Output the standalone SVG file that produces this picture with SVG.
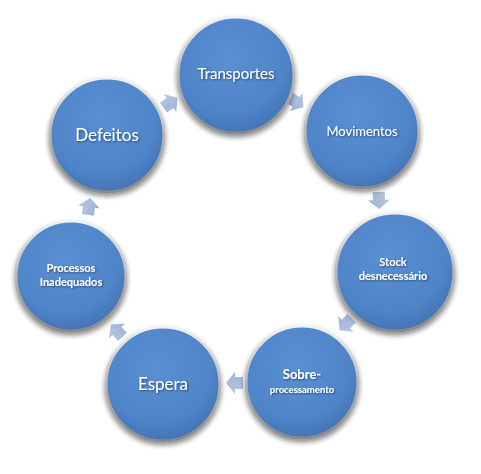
<svg xmlns="http://www.w3.org/2000/svg" width="481" height="474" viewBox="0 0 481 474">
<defs>
<radialGradient id="fill" cx="0.45" cy="0.35" r="0.7">
<stop offset="0" stop-color="#5a8fd3"/>
<stop offset="0.7" stop-color="#4f84c8"/>
<stop offset="1" stop-color="#3f6fb0"/>
</radialGradient>
<linearGradient id="rim" x1="0" y1="0" x2="0" y2="1">
<stop offset="0" stop-color="#f2f2f2"/>
<stop offset="0.5" stop-color="#b8b8b8"/>
<stop offset="1" stop-color="#8a8a8a"/>
</linearGradient>
<linearGradient id="arr" x1="0" y1="0" x2="0" y2="1">
<stop offset="0" stop-color="#b4c4de"/>
<stop offset="1" stop-color="#98aed2"/>
</linearGradient>
<filter id="sh" x="-20%" y="-20%" width="140%" height="150%">
<feGaussianBlur in="SourceAlpha" stdDeviation="2.5"/>
<feOffset dx="0" dy="3" result="b"/>
<feComponentTransfer><feFuncA type="linear" slope="0.45"/></feComponentTransfer>
<feMerge><feMergeNode/><feMergeNode in="SourceGraphic"/></feMerge>
</filter>
<filter id="tsh" x="-10%" y="-30%" width="120%" height="160%">
<feGaussianBlur in="SourceAlpha" stdDeviation="0.8"/>
<feOffset dx="0.8" dy="1" />
<feComponentTransfer><feFuncA type="linear" slope="0.5"/></feComponentTransfer>
<feMerge><feMergeNode/><feMergeNode in="SourceGraphic"/></feMerge>
</filter>
<path id="ar" d="M-8,-6 L0,-6 L0,-11 L9,0 L0,11 L0,6 L-8,6 Z"/>
</defs>
<style>
.c{fill:url(#fill);stroke:url(#rim);stroke-width:3;filter:url(#sh)}
.t{fill:#ffffff;font-family:Lato,"Liberation Sans",sans-serif;text-anchor:middle;filter:url(#tsh)}
.b{font-weight:bold}
.a{fill:url(#arr);opacity:0.95}
</style>
<rect width="481" height="474" fill="#ffffff"/>
<g id="connectors">
<use href="#ar" class="a" transform="translate(170,103) rotate(-35)"/>
<use href="#ar" class="a" transform="translate(296,102) rotate(35)"/>
<use href="#ar" class="a" transform="translate(379,200) rotate(88)"/>
<use href="#ar" class="a" transform="translate(346,324) rotate(135)"/>
<use href="#ar" class="a" transform="translate(235,383) rotate(180)"/>
<use href="#ar" class="a" transform="translate(117,331) rotate(227)"/>
<use href="#ar" class="a" transform="translate(89,207) rotate(-82)"/>
</g>
<g id="transportes">
<circle class="c" cx="236" cy="75" r="58"/>
<text class="t" x="236" y="79" font-size="15">Transportes</text>
</g>
<g id="movimentos">
<circle class="c" cx="362" cy="131" r="57"/>
<text class="t" x="362" y="136" font-size="13">Movimentos</text>
</g>
<g id="stock">
<circle class="c" cx="395" cy="272" r="59"/>
<text class="t b" x="393" y="266" font-size="11">Stock</text>
<text class="t b" x="393" y="280" font-size="11">desnecessário</text>
</g>
<g id="sobre">
<circle class="c" cx="302" cy="382" r="56"/>
<text class="t b" x="302" y="379" font-size="13">Sobre-</text>
<text class="t b" x="302" y="393" font-size="9.5">processamento</text>
</g>
<g id="espera">
<circle class="c" cx="163" cy="384" r="57"/>
<text class="t" x="163" y="390" font-size="17">Espera</text>
</g>
<g id="processos">
<circle class="c" cx="71" cy="276" r="55"/>
<text class="t b" x="71" y="272" font-size="11">Processos</text>
<text class="t b" x="71" y="286" font-size="11">Inadequados</text>
</g>
<g id="defeitos">
<circle class="c" cx="107" cy="135" r="57"/>
<text class="t" x="107" y="141" font-size="17">Defeitos</text>
</g>
</svg>
